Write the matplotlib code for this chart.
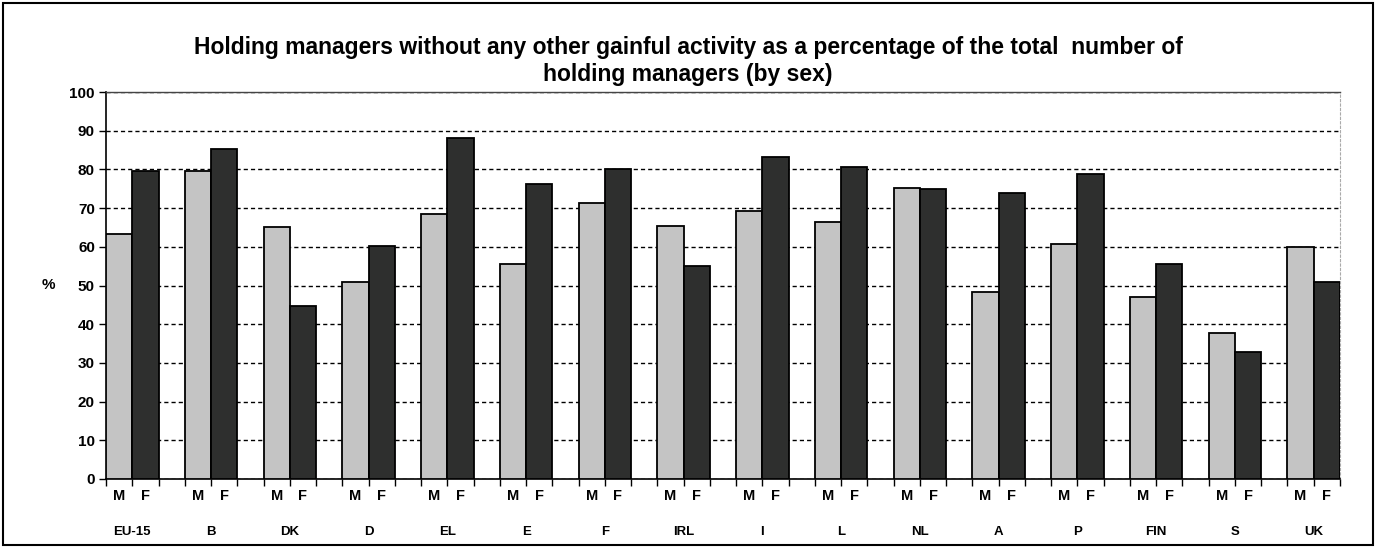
import matplotlib.pyplot as plt
from matplotlib.patches import Rectangle

# values (%)
countries = ["EU-15", "B", "DK", "D", "EL", "E", "F", "IRL",
             "I", "L", "NL", "A", "P", "FIN", "S", "UK"]
men = [63.3, 79.7, 65.1, 50.8, 68.5, 55.6, 71.2, 65.4,
       69.2, 66.4, 75.2, 48.4, 60.6, 46.9, 37.8, 60.0]
women = [79.6, 85.2, 44.8, 60.1, 88.2, 76.3, 80.0, 55.0,
         83.2, 80.6, 75.0, 73.8, 78.9, 55.5, 32.9, 50.8]
sex_labels = ["M", "F"]
y_ticks = list(range(0, 101, 10))

title = ("Holding managers without any other gainful activity as a percentage of the total  number of\n"
         "holding managers (by sex)")

plt.rcParams['font.family'] = ['Liberation Sans', 'DejaVu Sans']

W, H = 1382, 547
fig = plt.figure(figsize=(W / 100, H / 100), dpi=100)
ax = fig.add_axes([106 / W, 1 - 479 / H, (1340 - 106) / W, (479 - 92) / H])

# one slot per bar, with an empty slot between groups
x_m = [3 * i for i in range(len(countries))]
x_f = [3 * i + 1 for i in range(len(countries))]

ax.bar(x_m, men, width=1.0, color="#c4c4c4", edgecolor="black", linewidth=1.3, zorder=3)
ax.bar(x_f, women, width=1.0, color="#2e2f2e", edgecolor="black", linewidth=1.3, zorder=3)

n_slots = 3 * len(countries) - 1
ax.set_xlim(-0.5, n_slots - 0.5)
ax.set_ylim(0, 100)

ax.set_yticks(y_ticks)
ax.tick_params(axis='y', labelsize=11, length=5, width=1, direction='out', pad=3)
for lbl in ax.get_yticklabels():
    lbl.set_fontweight('bold')

ax.set_xticks([k - 0.5 for k in range(n_slots + 1)])
ax.set_xticklabels([])
ax.tick_params(axis='x', length=5, width=1, direction='out')

ax.yaxis.grid(True, linestyle=(0, (3, 2.2)), color="black", linewidth=1.0, zorder=0)
ax.set_axisbelow(True)

ax.spines['left'].set_linewidth(1.2)
ax.spines['bottom'].set_linewidth(1.2)
ax.spines['top'].set_color("#444444")
ax.spines['top'].set_linewidth(1.0)
ax.spines['right'].set_color("#aaaaaa")
ax.spines['right'].set_linestyle((0, (2, 2)))
ax.spines['right'].set_linewidth(0.8)

trans = ax.get_xaxis_transform()
for i, name in enumerate(countries):
    ax.text(x_m[i], -0.045, sex_labels[0], transform=trans, ha='center', va='center',
            fontsize=10.5, fontweight='bold')
    ax.text(x_f[i], -0.045, sex_labels[1], transform=trans, ha='center', va='center',
            fontsize=10.5, fontweight='bold')
    ax.text(x_m[i] + 0.5, -0.137, name, transform=trans, ha='center', va='center',
            fontsize=9.5, fontweight='bold')

ax.text(48 / W, 1 - 285 / H, "%", transform=fig.transFigure, ha='center', va='center',
        fontsize=11, fontweight='bold')

fig.text(688 / W, 1 - 61 / H, title, ha='center', va='center', fontsize=16.5,
         fontweight='bold', linespacing=1.25)

# outer frame of the chart area
fig.patches.append(Rectangle((3 / W, 2 / H), (W - 12) / W, (H - 5) / H,
                             transform=fig.transFigure, fill=False,
                             edgecolor="black", linewidth=1.5))

fig.savefig("out.png", dpi=100)
